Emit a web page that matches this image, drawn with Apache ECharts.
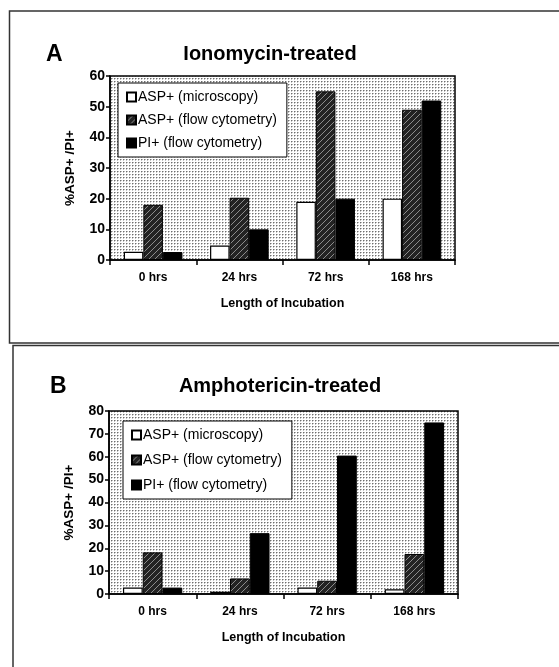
<!DOCTYPE html>
<html>
<head>
<meta charset="utf-8">
<script src="https://cdn.jsdelivr.net/npm/echarts@6/dist/echarts.min.js"></script>
<style>
html,body{margin:0;padding:0;background:#fff;}
#c{width:559px;height:667px;}
</style>
</head>
<body>
<div id="c"></div>
<script>
// ---- data ----
var categories = ['0 hrs', '24 hrs', '72 hrs', '168 hrs'];
var seriesNames = ['ASP+ (microscopy)', 'ASP+ (flow cytometry)', 'PI+ (flow cytometry)'];
// Panel A: Ionomycin-treated
var ionoMicroscopy = [2.7, 4.7, 19, 20];
var ionoFlowASP = [18, 20.3, 55, 49];
var ionoFlowPI = [2.6, 10, 20, 52];
// Panel B: Amphotericin-treated
var amphoMicroscopy = [2.8, 1, 2.8, 2.1];
var amphoFlowASP = [18.2, 6.8, 5.8, 17.5];
var amphoFlowPI = [2.8, 26.6, 60.5, 75];
var yTicksA = [0, 10, 20, 30, 40, 50, 60];
var yTicksB = [0, 10, 20, 30, 40, 50, 60, 70, 80];
var titleA = 'Ionomycin-treated';
var titleB = 'Amphotericin-treated';
var xName = 'Length of Incubation';
var yName = '%ASP+ /PI+';

// ---- patterns ----
function makeDots() {
  var c = document.createElement('canvas');
  c.width = 3; c.height = 3;
  var g = c.getContext('2d');
  g.fillStyle = '#ffffff'; g.fillRect(0, 0, 3, 3);
  g.fillStyle = '#6e6e6e'; g.fillRect(0, 0, 1, 1);
  g.fillStyle = '#b8b8b8'; g.fillRect(1, 0, 1, 1);
  g.fillStyle = '#c4c4c4'; g.fillRect(0, 1, 1, 1);
  return c;
}
function makeHatch() {
  var c = document.createElement('canvas');
  c.width = 6; c.height = 6;
  var g = c.getContext('2d');
  g.fillStyle = '#232323'; g.fillRect(0, 0, 6, 6);
  g.strokeStyle = '#8c8c8c'; g.lineWidth = 1;
  g.beginPath(); g.moveTo(0, 6); g.lineTo(6, 0); g.stroke();
  return c;
}
var dotPattern = { image: makeDots(), repeat: 'repeat' };
var hatchPattern = { image: makeHatch(), repeat: 'repeat' };

var FONT = 'Liberation Sans';
var chart = echarts.init(document.getElementById('c'));

function yAxis(gi, ticks) {
  return {
    type: 'value', gridIndex: gi,
    min: ticks[0], max: ticks[ticks.length - 1], interval: ticks[1] - ticks[0],
    name: yName, nameLocation: 'middle', nameGap: 33, nameRotate: 90,
    nameTextStyle: { fontFamily: FONT, fontWeight: 'bold', fontSize: 13.5, color: '#000' },
    axisLine: { show: true, lineStyle: { color: '#000', width: 1.5 } },
    axisTick: { show: true, inside: false, length: 4, lineStyle: { color: '#000', width: 1.5 } },
    axisLabel: { fontFamily: FONT, fontWeight: 'bold', fontSize: 14, color: '#000', margin: 5 },
    splitLine: { show: false }
  };
}
function xAxis(gi, nameGap) {
  return {
    type: 'category', gridIndex: gi, data: categories,
    name: xName, nameLocation: 'middle', nameGap: nameGap,
    nameTextStyle: { fontFamily: FONT, fontWeight: 'bold', fontSize: 12.5, color: '#000' },
    axisLine: { show: true, lineStyle: { color: '#000', width: 1.5 } },
    axisTick: { show: true, alignWithLabel: false, length: 5, lineStyle: { color: '#000', width: 1.5 } },
    axisLabel: { fontFamily: FONT, fontWeight: 'bold', fontSize: 12, color: '#000', margin: 12 },
    splitLine: { show: false }
  };
}
function bars(gi, name, data, style) {
  return {
    type: 'bar', name: name, xAxisIndex: gi, yAxisIndex: gi, data: data,
    barGap: '0%', barCategoryGap: '32%', itemStyle: style, silent: true, animation: false
  };
}
var whiteStyle = { color: '#ffffff', borderColor: '#000', borderWidth: 1.2 };
var hatchStyle = { color: hatchPattern, borderColor: '#000', borderWidth: 1 };
var blackStyle = { color: '#000000', borderColor: '#000', borderWidth: 1 };

function legend(left, top, gap) {
  return {
    data: seriesNames, orient: 'vertical', left: left, top: top,
    itemWidth: 9, itemHeight: 9, itemGap: gap, padding: [7, 10, 7, 8],
    backgroundColor: '#fff', borderColor: '#000', borderWidth: 1,
    selectedMode: false, icon: 'rect',
    textStyle: { fontFamily: FONT, fontSize: 14, color: '#000', padding: [0, 0, 0, -3] }
  };
}

chart.setOption({
  animation: false,
  grid: [
    { left: 110, top: 76, width: 345, height: 184, show: true, backgroundColor: dotPattern, borderColor: '#000', borderWidth: 1.5 },
    { left: 109, top: 411, width: 349, height: 183, show: true, backgroundColor: dotPattern, borderColor: '#000', borderWidth: 1.5 }
  ],
  xAxis: [xAxis(0, 37), xAxis(1, 37)],
  yAxis: [yAxis(0, yTicksA), yAxis(1, yTicksB)],
  legend: [legend(118, 83, 9), legend(123, 421, 11)],
  series: [
    bars(0, seriesNames[0], ionoMicroscopy, whiteStyle),
    bars(0, seriesNames[1], ionoFlowASP, hatchStyle),
    bars(0, seriesNames[2], ionoFlowPI, blackStyle),
    bars(1, seriesNames[0], amphoMicroscopy, whiteStyle),
    bars(1, seriesNames[1], amphoFlowASP, hatchStyle),
    bars(1, seriesNames[2], amphoFlowPI, blackStyle)
  ],
  graphic: [
    { type: 'rect', shape: { x: 9.5, y: 11, width: 560, height: 332 }, style: { fill: null, stroke: '#333', lineWidth: 1.5 }, silent: true },
    { type: 'rect', shape: { x: 13, y: 345.5, width: 560, height: 340 }, style: { fill: null, stroke: '#333', lineWidth: 1.5 }, silent: true },
    { type: 'text', left: 46, top: 43, style: { text: 'A', font: 'bold 23px "Liberation Sans"', fill: '#000' } },
    { type: 'text', left: 50, top: 375, style: { text: 'B', font: 'bold 23px "Liberation Sans"', fill: '#000' } },
    { type: 'text', x: 270, y: 54, style: { text: titleA, font: 'bold 20px "Liberation Sans"', fill: '#000', textAlign: 'center', textVerticalAlign: 'middle' } },
    { type: 'text', x: 280, y: 386, style: { text: titleB, font: 'bold 20px "Liberation Sans"', fill: '#000', textAlign: 'center', textVerticalAlign: 'middle' } }
  ]
});
</script>
</body>
</html>
